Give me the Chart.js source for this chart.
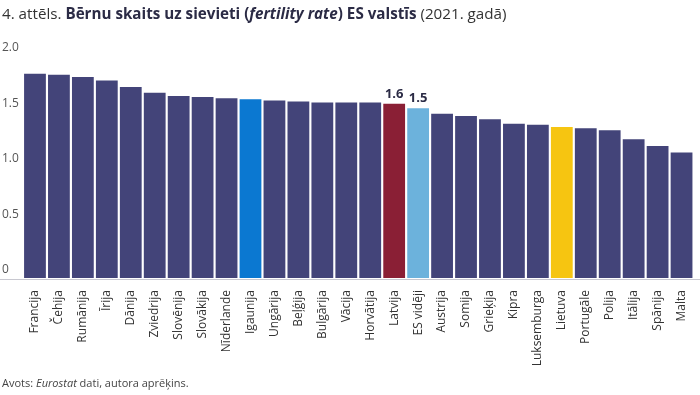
<!DOCTYPE html>
<html>
<head>
<meta charset="utf-8">
<script src="https://cdn.jsdelivr.net/npm/chart.js@4"></script>
<style>
  body { margin: 0; background: #fff; font-family: 'Open Sans', sans-serif; }
  #wrap { position: relative; width: 700px; height: 395px; }
  #title { position: absolute; left: 2px; top: 3px; font-size: 15.2px; color: #333; white-space: nowrap; }
  #title b { color: #2b2b45; }
  #source { position: absolute; left: 2px; top: 375px; font-size: 11px; color: #444; }
</style>
</head>
<body>
<div id="wrap">
  <canvas id="fertilityChart" width="700" height="395"></canvas>
  <div id="title">4. attēls. <b>Bērnu skaits uz sievieti (<i>fertility rate</i>) ES valstīs</b> (2021. gadā)</div>
  <div id="source">Avots: <i>Eurostat</i> dati, autora aprēķins.</div>
</div>
<script>
const countries = ['Francija', 'Čehija', 'Rumānija', 'Īrija', 'Dānija', 'Zviedrija', 'Slovēnija', 'Slovākija', 'Nīderlande',
  'Igaunija', 'Ungārija', 'Beļģija', 'Bulgārija', 'Vācija', 'Horvātija', 'Latvija', 'ES vidēji', 'Austrija', 'Somija',
  'Grieķija', 'Kipra', 'Luksemburga', 'Lietuva', 'Portugāle', 'Polija', 'Itālija', 'Spānija', 'Malta'];
const fertilityRate = [1.84, 1.83, 1.81, 1.78, 1.72, 1.67, 1.64, 1.63, 1.62,
  1.61, 1.60, 1.59, 1.58, 1.58, 1.58, 1.57, 1.53, 1.48, 1.46,
  1.43, 1.39, 1.38, 1.36, 1.35, 1.33, 1.25, 1.19, 1.13];
const yTicks = [0, 0.5, 1.0, 1.5, 2.0];
const labelledBars = ['Latvija', 'ES vidēji'];

// highlighted bars
const barColors = countries.map(name => {
  if (name === 'Igaunija') return '#0b78d1';
  if (name === 'Latvija') return '#8a1f35';
  if (name === 'ES vidēji') return '#6cb2dc';
  if (name === 'Lietuva') return '#f6c511';
  return '#434479';
});

// value labels above Latvia and EU average
const valueLabels = {
  id: 'valueLabels',
  afterDatasetsDraw(chart) {
    const ctx = chart.ctx;
    const meta = chart.getDatasetMeta(0);
    ctx.save();
    ctx.font = 'bold 13px "Open Sans"';
    ctx.fillStyle = '#2b2b45';
    ctx.textAlign = 'center';
    ctx.textBaseline = 'bottom';
    meta.data.forEach((bar, i) => {
      if (labelledBars.includes(countries[i])) {
        ctx.fillText(fertilityRate[i].toFixed(1), bar.x, bar.y - 3);
      }
    });
    ctx.restore();
  }
};

// light baseline across the full width
const baseLine = {
  id: 'baseLine',
  afterDraw(chart) {
    const ctx = chart.ctx;
    const y = chart.chartArea.bottom + 1.5;
    ctx.save();
    ctx.strokeStyle = '#c8c8d0';
    ctx.lineWidth = 1;
    ctx.beginPath();
    ctx.moveTo(0, y);
    ctx.lineTo(chart.width, y);
    ctx.stroke();
    ctx.restore();
  }
};

new Chart(document.getElementById('fertilityChart'), {
  type: 'bar',
  data: {
    labels: countries,
    datasets: [{
      data: fertilityRate,
      backgroundColor: barColors,
      barPercentage: 0.91,
      categoryPercentage: 1.0
    }]
  },
  options: {
    responsive: false,
    animation: false,
    layout: { padding: { top: 56, left: 2, right: 3, bottom: 0 } },
    plugins: {
      legend: { display: false },
      tooltip: { enabled: false }
    },
    scales: {
      x: {
        grid: { display: false },
        border: { display: false },
        ticks: {
          minRotation: 90,
          maxRotation: 90,
          autoSkip: false,
          padding: 4,
          color: '#333',
          font: { family: 'Open Sans', size: 12 }
        },
        afterFit(scale) { scale.height = 117; }
      },
      y: {
        min: 0,
        max: 2,
        grid: { display: false },
        border: { display: false },
        afterBuildTicks(scale) { scale.ticks = yTicks.map(v => ({ value: v })); },
        ticks: {
          crossAlign: 'far',
          labelOffset: -8,
          padding: 0,
          color: '#555',
          font: { family: 'Open Sans', size: 12 },
          callback: v => v === 0 ? '0' : v.toFixed(1)
        },
        afterFit(scale) { scale.width = 21; }
      }
    }
  },
  plugins: [valueLabels, baseLine]
});
</script>
</body>
</html>
